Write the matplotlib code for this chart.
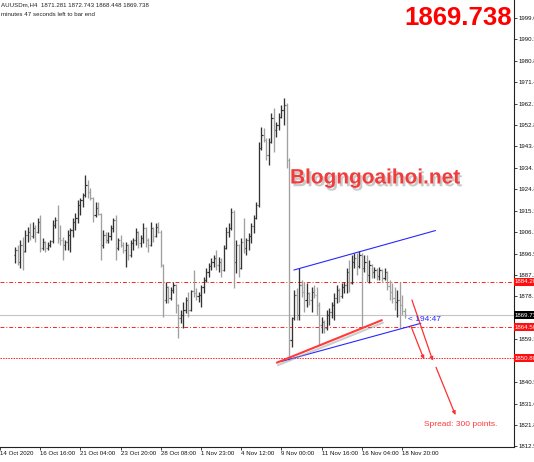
import numpy as np
import matplotlib
matplotlib.use('Agg')
import matplotlib.pyplot as plt
import matplotlib.patheffects as pe

# XAUUSD H4 bars, bar index 0 = 16 Oct 16:00
bar_first = -10
opens = [
    1895.9, 1898.1, 1892.9, 1900.3, 1897.6, 1904.7, 1906.0, 1904.2, 1907.7, 1906.0,
    1910.4, 1899.0, 1901.6, 1899.0, 1900.3, 1902.1, 1909.0, 1911.2, 1903.4, 1902.5,
    1900.3, 1901.6, 1904.7, 1906.9, 1910.4, 1912.1, 1917.8, 1920.0, 1922.1, 1926.5,
    1923.5, 1920.8, 1913.4, 1916.5, 1913.8, 1900.3, 1904.7, 1902.5, 1904.2, 1907.7,
    1911.2, 1899.0, 1902.5, 1900.3, 1898.1, 1900.3, 1895.9, 1901.2, 1902.5, 1906.0,
    1901.2, 1903.4, 1907.7, 1902.5, 1900.3, 1907.7, 1904.2, 1908.2, 1906.0, 1891.6,
    1876.3, 1882.0, 1877.2, 1880.7, 1882.8, 1874.1, 1868.4, 1869.7, 1871.9, 1876.3,
    1871.9, 1880.2, 1879.4, 1878.0, 1878.5, 1882.0, 1885.0, 1888.5, 1891.1, 1892.9,
    1894.6, 1891.6, 1892.9, 1889.4, 1899.0, 1906.0, 1907.7, 1914.7, 1892.9, 1900.3,
    1890.3, 1901.6, 1899.0, 1902.5, 1904.2, 1908.6, 1912.1, 1917.8, 1942.7, 1948.3,
    1946.2, 1939.6, 1945.3, 1955.8, 1950.5, 1952.7, 1956.2, 1959.3, 1961.4, 1937.4,
    1858.8, 1868.4, 1878.5, 1869.7, 1882.8, 1879.8, 1876.3, 1879.4, 1876.3, 1879.8,
    1878.5, 1874.1, 1865.4, 1866.7, 1864.1, 1869.7, 1871.1, 1874.1, 1877.2, 1880.7,
    1878.0, 1882.0, 1882.8, 1888.5, 1883.7, 1892.9, 1894.6, 1891.1, 1895.9, 1890.3,
    1892.9, 1887.2, 1891.6, 1888.5, 1889.4, 1886.8, 1889.4, 1885.9, 1888.5, 1882.4,
    1879.8, 1877.2, 1875.4, 1876.3, 1874.1, 1871.281]
highs = [
    1899.4, 1900.3, 1902.5, 1903.8, 1906.9, 1908.2, 1909.9, 1910.4, 1909.0, 1912.1,
    1913.4, 1903.4, 1902.0, 1901.6, 1902.5, 1911.2, 1912.5, 1917.8, 1909.0, 1903.8,
    1902.5, 1906.9, 1907.7, 1912.1, 1914.3, 1920.0, 1920.8, 1923.0, 1930.9, 1928.7,
    1925.2, 1921.2, 1919.1, 1919.1, 1914.3, 1906.9, 1906.0, 1906.0, 1909.0, 1912.1,
    1913.4, 1903.4, 1904.7, 1901.6, 1901.6, 1900.8, 1902.5, 1903.4, 1907.7, 1906.5,
    1904.7, 1909.9, 1908.1, 1903.4, 1910.4, 1908.2, 1909.9, 1910.4, 1906.9, 1892.0,
    1884.2, 1882.4, 1882.0, 1884.2, 1883.3, 1874.6, 1871.9, 1875.4, 1877.6, 1879.8,
    1880.7, 1889.4, 1881.5, 1879.8, 1882.8, 1886.3, 1890.3, 1892.5, 1894.6, 1895.9,
    1898.1, 1895.1, 1894.6, 1900.3, 1908.2, 1909.9, 1916.5, 1915.6, 1902.5, 1900.8,
    1903.4, 1912.1, 1903.4, 1905.5, 1909.9, 1913.4, 1919.1, 1945.3, 1951.8, 1951.4,
    1947.0, 1947.0, 1958.0, 1960.1, 1954.0, 1958.0, 1961.4, 1964.5, 1962.3, 1938.3,
    1868.9, 1880.7, 1881.5, 1890.3, 1885.0, 1884.2, 1883.7, 1879.8, 1882.0, 1882.8,
    1882.0, 1875.4, 1868.9, 1867.6, 1871.9, 1872.8, 1875.4, 1879.4, 1882.8, 1881.5,
    1883.7, 1884.2, 1890.3, 1893.8, 1895.9, 1896.8, 1896.8, 1897.7, 1896.8, 1895.9,
    1895.9, 1893.8, 1892.0, 1890.7, 1890.3, 1890.7, 1889.8, 1890.3, 1888.9, 1885.0,
    1883.7, 1882.0, 1880.7, 1884.2, 1878.5, 1872.743]
lows = [
    1892.5, 1891.6, 1890.3, 1889.4, 1897.3, 1901.6, 1902.5, 1903.4, 1901.6, 1905.5,
    1897.3, 1898.1, 1897.3, 1898.1, 1899.4, 1901.2, 1907.7, 1901.2, 1900.3, 1893.8,
    1898.1, 1898.1, 1897.3, 1903.8, 1906.9, 1909.9, 1913.4, 1916.9, 1921.3, 1920.8,
    1920.0, 1910.4, 1912.5, 1913.4, 1893.8, 1899.0, 1901.2, 1901.2, 1902.5, 1906.0,
    1893.8, 1898.1, 1899.4, 1896.8, 1890.7, 1893.8, 1895.1, 1898.1, 1900.3, 1899.0,
    1899.4, 1901.2, 1899.4, 1897.3, 1899.9, 1901.6, 1903.8, 1905.5, 1890.7, 1868.9,
    1875.0, 1875.0, 1876.3, 1879.4, 1870.6, 1859.7, 1866.2, 1864.1, 1870.6, 1868.9,
    1871.5, 1877.6, 1876.3, 1875.4, 1873.2, 1879.4, 1884.2, 1886.3, 1889.4, 1890.7,
    1889.4, 1888.5, 1886.3, 1889.0, 1898.6, 1903.8, 1906.9, 1881.5, 1888.1, 1886.3,
    1889.9, 1896.8, 1895.9, 1898.1, 1901.2, 1905.5, 1911.6, 1916.9, 1941.8, 1945.3,
    1937.4, 1935.2, 1944.9, 1940.9, 1947.5, 1950.5, 1955.8, 1952.7, 1933.9, 1850.1,
    1855.8, 1867.6, 1867.6, 1867.6, 1877.6, 1871.1, 1873.2, 1874.1, 1871.1, 1877.2,
    1869.7, 1856.6, 1861.9, 1861.9, 1863.2, 1865.4, 1868.4, 1867.6, 1875.0, 1875.4,
    1877.2, 1879.4, 1879.4, 1879.8, 1883.3, 1890.3, 1887.2, 1890.3, 1864.1, 1888.5,
    1884.2, 1883.7, 1885.9, 1885.9, 1885.0, 1885.0, 1884.2, 1885.0, 1880.7, 1876.3,
    1875.0, 1871.9, 1868.9, 1864.1, 1869.7, 1868.448]
closes = [
    1898.1, 1892.9, 1900.3, 1897.3, 1904.7, 1906.0, 1904.2, 1907.7, 1906.0, 1910.4,
    1899.0, 1901.6, 1899.0, 1900.3, 1902.1, 1909.0, 1911.2, 1903.4, 1902.5, 1900.3,
    1901.6, 1904.7, 1906.9, 1910.4, 1912.1, 1917.8, 1920.0, 1922.1, 1926.5, 1923.5,
    1920.8, 1913.4, 1916.5, 1913.8, 1900.3, 1904.7, 1902.5, 1904.2, 1907.7, 1911.2,
    1899.0, 1902.5, 1900.3, 1898.1, 1900.3, 1895.9, 1901.2, 1902.5, 1906.0, 1901.2,
    1903.4, 1907.7, 1902.5, 1900.3, 1907.7, 1904.2, 1908.2, 1906.0, 1891.6, 1876.3,
    1882.0, 1877.2, 1880.7, 1882.8, 1874.1, 1868.4, 1869.7, 1871.9, 1876.3, 1871.9,
    1880.2, 1879.4, 1878.0, 1878.5, 1882.0, 1885.0, 1888.5, 1891.1, 1892.9, 1894.6,
    1891.6, 1892.9, 1889.4, 1899.0, 1906.0, 1907.7, 1914.7, 1892.9, 1900.3, 1890.3,
    1901.6, 1899.0, 1902.5, 1904.2, 1908.6, 1912.1, 1917.8, 1942.7, 1948.3, 1946.2,
    1939.6, 1945.3, 1955.8, 1950.5, 1952.7, 1956.2, 1959.3, 1961.4, 1937.4, 1858.8,
    1868.4, 1878.5, 1869.7, 1882.8, 1879.8, 1876.3, 1879.4, 1876.3, 1879.8, 1878.5,
    1874.1, 1865.4, 1866.7, 1864.1, 1869.7, 1871.1, 1874.1, 1877.2, 1880.7, 1878.0,
    1882.0, 1882.8, 1888.5, 1883.7, 1892.9, 1894.6, 1891.1, 1895.9, 1890.3, 1892.9,
    1887.2, 1891.6, 1888.5, 1889.4, 1886.8, 1889.4, 1885.9, 1888.5, 1882.4, 1879.8,
    1877.2, 1875.4, 1876.3, 1874.1, 1871.3, 1869.738]

last_price = 1869.738
level_prices = [1884.2, 1864.5, 1850.8]
level_labels = ['1884.20', '1864.50', '1850.80']

price_ticks = [1999.6, 1990.3, 1980.8, 1971.4, 1962.1, 1952.8, 1943.4, 1934.1,
               1924.8, 1915.3, 1906.1, 1896.5, 1887.2, 1878.1, 1868.7, 1859.3,
               1849.9, 1840.5, 1831.0, 1821.8, 1812.5]
# these two sit under the price tags in the reference
hidden_ticks = [1868.7, 1849.9]
time_ticks = [-16, 0, 16, 32, 48, 64, 80, 96, 112, 128, 144]
time_labels = ['14 Oct 2020', '16 Oct 16:00', '21 Oct 04:00', '23 Oct 20:00',
               '28 Oct 08:00', '1 Nov 23:00', '4 Nov 12:00', '9 Nov 00:00',
               '11 Nov 16:00', '16 Nov 04:00', '18 Nov 20:00']

# drawn objects: (bar index, price) pairs
channel_top = ([101.0, 157.2], [1889.4, 1906.6])
channel_bottom = ([95.8, 151.4], [1849.4, 1866.1])
red_trend = ([93.9, 136.2], [1848.8, 1867.6])
arrows = [((147.9, 1876.3), (156.2, 1849.8)),
          ((147.5, 1864.9), (152.7, 1850.4)),
          ((157.5, 1846.9), (165.2, 1826.1))]

W, H = 534, 462
FONT = 'Liberation Sans'
RED = '#ff2020'

opens, highs = np.array(opens), np.array(highs)
lows, closes = np.array(lows), np.array(closes)
idx = np.arange(bar_first, bar_first + len(opens))

fig = plt.figure(figsize=(W / 100, H / 100), dpi=100)
fig.patch.set_facecolor('white')
ax = fig.add_axes([0, 15 / H, 514 / W, 447 / H])
ax.set_xlim(-10.86, 188.52)
ax.set_ylim(1812.1, 2007.3)

for s in ('left', 'top'):
    ax.spines[s].set_visible(False)
for s in ('right', 'bottom'):
    ax.spines[s].set_linewidth(0.8)
    ax.spines[s].set_color('#222222')

# price levels
for p in level_prices[:2]:
    ax.axhline(p, color=RED, lw=0.7, ls=(0, (4, 2, 1, 2)), zorder=1)
ax.axhline(level_prices[2], color=RED, lw=0.7, ls=(0, (1.5, 1.2)), zorder=1)
ax.axhline(last_price, color='#c4c4c4', lw=0.8, zorder=1)

# OHLC bars
up = closes >= opens
for color, m in (('#a0a0a0', ~up), ('#333333', up)):
    ax.vlines(idx[m], lows[m], highs[m], color=color, lw=0.95, zorder=3)
    ax.hlines(opens[m], idx[m] - 0.45, idx[m], color=color, lw=0.85, zorder=3)
    ax.hlines(closes[m], idx[m], idx[m] + 0.45, color=color, lw=0.85, zorder=3)

# channel and trend lines
ax.plot(*channel_top, color='#2828ff', lw=0.8, zorder=4)
ax.plot(*channel_bottom, color='#2828ff', lw=0.8, zorder=4)
shadow = [pe.SimpleLineShadow(offset=(0.8, -1.8), shadow_color='#909090', alpha=0.45),
          pe.Normal()]
ax.plot(*red_trend, color='#ff3a3a', lw=1.5, zorder=4, path_effects=shadow,
        solid_capstyle='butt')

for start, end in arrows:
    ax.annotate('', xy=end, xytext=start, zorder=5,
                arrowprops=dict(arrowstyle='-|>', color='#ff3030', lw=0.9,
                                mutation_scale=5, shrinkA=0, shrinkB=0,
                                path_effects=[pe.withSimplePatchShadow(
                                    offset=(0.8, -1.2), shadow_rgbFace='#999999',
                                    alpha=0.4)]))

ax.text(146.2, 1867.6, '< 194:47', color='#2828ff', fontsize=6, family=FONT,
        va='center', ha='left', zorder=6)
ax.text(152.8, 1822.1, 'Spread: 300 points.', color='#ff3a3a', fontsize=6,
        family=FONT, va='center', ha='left', zorder=6)

# axes ticks
ax.yaxis.tick_right()
ax.set_yticks(price_ticks)
ax.set_yticklabels(['' if v in hidden_ticks else '%.1f' % v for v in price_ticks])
ax.set_xticks(time_ticks)
ax.set_xticklabels(time_labels, ha='left')
ax.tick_params(axis='both', labelsize=4.4, length=2, width=0.6, color='#222222',
               labelcolor='#111111', pad=1)
for lab in ax.get_xticklabels() + ax.get_yticklabels():
    lab.set_family(FONT)

# price tags on the scale
ytrans = ax.get_yaxis_transform()
for p, lab in zip(level_prices, level_labels):
    ax.text(1.002, p, lab, transform=ytrans, fontsize=4.4, family=FONT,
            color='white', va='center', ha='left', clip_on=False, zorder=10,
            bbox=dict(boxstyle='square,pad=0.25', fc='#ff1010', ec='none'))
ax.text(1.002, last_price, '1869.73', transform=ytrans, fontsize=4.4, family=FONT,
        color='white', va='center', ha='left', clip_on=False, zorder=10,
        bbox=dict(boxstyle='square,pad=0.25', fc='#000000', ec='none'))

# header and overlays
fig.text(1 / W, 1 - 5 / H, 'AUUSDm,H4  1871.281 1872.743 1868.448 1869.738',
         fontsize=4.4, family=FONT, color='#222222', va='center', ha='left')
fig.text(1 / W, 1 - 15 / H, 'minutes 47 seconds left to bar end',
         fontsize=4.4, family=FONT, color='#222222', va='center', ha='left')
fig.text(512 / W, 1 - 18 / H, '%.3f' % last_price, fontsize=18.5, family=FONT,
         weight='bold', color='#ff0000', va='center', ha='right')
fig.text(290 / W, 1 - 178 / H, 'Blogngoaihoi.net', fontsize=15, family=FONT,
         weight='bold', color='#f23c3c', va='center', ha='left',
         path_effects=[pe.withSimplePatchShadow(offset=(1.5, -2),
                                                shadow_rgbFace='#888888',
                                                alpha=0.45)])

fig.savefig('out.png', dpi=100)
